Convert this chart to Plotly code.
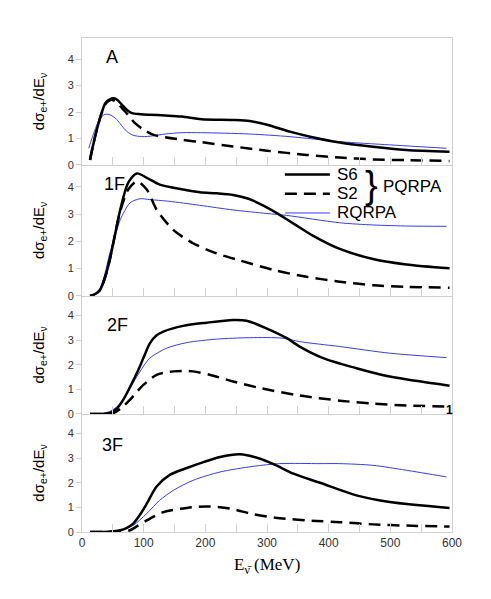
import plotly.graph_objects as go

# panel A
a_s6_x = [13, 18, 24, 31, 38, 45, 51, 58, 65, 73, 81, 95, 108, 135, 162, 194, 245, 272, 300, 337, 370, 418, 472, 526, 596]
a_s6_y = [0.19, 0.75, 1.33, 1.9, 2.34, 2.48, 2.52, 2.45, 2.27, 2.08, 1.96, 1.92, 1.9, 1.87, 1.83, 1.73, 1.70, 1.66, 1.52, 1.26, 1.07, 0.85, 0.69, 0.57, 0.50]
a_s2_x = [13, 18, 24, 31, 38, 44, 49, 56, 63, 70, 78, 86, 100, 116, 135, 162, 194, 245, 300, 364, 418, 472, 530, 596]
a_s2_y = [0.19, 0.75, 1.33, 1.9, 2.3, 2.43, 2.46, 2.38, 2.2, 2.02, 1.8, 1.58, 1.33, 1.14, 1.05, 0.95, 0.86, 0.7, 0.54, 0.38, 0.28, 0.21, 0.18, 0.15]
a_rq_x = [11, 16, 22, 28, 35, 40, 47, 54, 62, 70, 81, 97, 115, 135, 162, 194, 272, 337, 418, 499, 591]
a_rq_y = [0.63, 1.0, 1.39, 1.7, 1.89, 1.92, 1.88, 1.77, 1.56, 1.33, 1.14, 1.07, 1.1, 1.17, 1.22, 1.22, 1.17, 1.07, 0.88, 0.76, 0.63]

# panel 1F
f1_s6_x = [13, 20, 29, 37, 45, 54, 62, 75, 89, 105, 126, 164, 191, 218, 245, 270, 295, 320, 345, 375, 418, 472, 526, 596]
f1_s6_y = [0.0, 0.05, 0.21, 0.65, 1.32, 2.3, 3.16, 4.15, 4.49, 4.33, 4.08, 3.9, 3.8, 3.76, 3.7, 3.56, 3.3, 2.98, 2.62, 2.2, 1.72, 1.35, 1.15, 1.01]
f1_s2_x = [13, 20, 29, 37, 45, 54, 62, 75, 89, 105, 121, 148, 180, 218, 256, 310, 364, 418, 472, 526, 596]
f1_s2_y = [0.0, 0.05, 0.21, 0.65, 1.32, 2.3, 3.1, 3.9, 4.2, 3.9, 3.16, 2.42, 1.93, 1.56, 1.3, 0.95, 0.70, 0.52, 0.39, 0.33, 0.30]
f1_rq_x = [13, 20, 29, 37, 45, 54, 62, 78, 94, 110, 140, 191, 245, 300, 332, 418, 472, 530, 591]
f1_rq_y = [0.0, 0.06, 0.27, 0.8, 1.56, 2.2, 2.79, 3.41, 3.56, 3.53, 3.47, 3.32, 3.15, 3.02, 2.95, 2.68, 2.6, 2.56, 2.55]

# panel 2F
f2_s6_x = [13, 30, 45, 56, 67, 78, 89, 100, 110, 121, 132, 164, 202, 245, 267, 299, 332, 353, 391, 445, 499, 596]
f2_s6_y = [0.0, 0.0, 0.04, 0.2, 0.58, 1.1, 1.66, 2.3, 2.87, 3.2, 3.35, 3.58, 3.71, 3.82, 3.79, 3.48, 3.08, 2.74, 2.27, 1.86, 1.52, 1.15]
f2_s2_x = [13, 30, 51, 64, 78, 89, 100, 121, 148, 180, 207, 245, 289, 353, 418, 472, 526, 591]
f2_s2_y = [0.0, 0.0, 0.04, 0.25, 0.58, 0.9, 1.19, 1.59, 1.73, 1.73, 1.59, 1.32, 1.05, 0.75, 0.54, 0.42, 0.34, 0.30]
f2_rq_x = [13, 30, 45, 56, 67, 78, 89, 100, 110, 137, 170, 218, 272, 326, 353, 418, 499, 591]
f2_rq_y = [0.0, 0.0, 0.1, 0.28, 0.58, 1.05, 1.52, 1.95, 2.27, 2.67, 2.9, 3.04, 3.1, 3.08, 2.94, 2.74, 2.47, 2.29]

# panel 3F
f3_s6_x = [13, 35, 51, 62, 72, 83, 94, 105, 121, 143, 170, 197, 224, 256, 289, 315, 343, 386, 445, 499, 596]
f3_s6_y = [0.0, 0.0, 0.03, 0.07, 0.16, 0.34, 0.7, 1.15, 1.85, 2.33, 2.6, 2.84, 3.05, 3.16, 2.98, 2.71, 2.37, 2.0, 1.49, 1.22, 0.98]
f3_s2_x = [13, 35, 60, 78, 90, 105, 132, 170, 202, 240, 278, 321, 380, 418, 472, 526, 596]
f3_s2_y = [0.0, 0.0, 0.02, 0.07, 0.25, 0.47, 0.81, 0.98, 1.04, 0.95, 0.72, 0.56, 0.45, 0.4, 0.31, 0.26, 0.22]
f3_rq_x = [13, 35, 51, 62, 72, 83, 105, 126, 148, 180, 224, 278, 321, 386, 418, 472, 526, 591]
f3_rq_y = [0.0, 0.0, 0.03, 0.07, 0.15, 0.27, 0.75, 1.29, 1.69, 2.1, 2.44, 2.67, 2.78, 2.78, 2.78, 2.71, 2.51, 2.24]

panel_names = ["A", "1F", "2F", "3F"]
x_ticks = [0, 100, 200, 300, 400, 500, 600]
y_ticks = [0, 1, 2, 3, 4]

panels = [
    (a_s6_x, a_s6_y, a_s2_x, a_s2_y, a_rq_x, a_rq_y),
    (f1_s6_x, f1_s6_y, f1_s2_x, f1_s2_y, f1_rq_x, f1_rq_y),
    (f2_s6_x, f2_s6_y, f2_s2_x, f2_s2_y, f2_rq_x, f2_rq_y),
    (f3_s6_x, f3_s6_y, f3_s2_x, f3_s2_y, f3_rq_x, f3_rq_y),
]
domains = [[0.743, 1.0], [0.478, 0.743], [0.239, 0.478], [0.0, 0.239]]
label_pos = [(49, 4.1), (53, 4.12), (57, 3.6), (50, 3.52)]

grey = "#d0d0d0"
blue = "#3a3aff"
dash = "12px,7px"
fig = go.Figure()

for i, (s6x, s6y, s2x, s2y, rqx, rqy) in enumerate(panels):
    n = i + 1
    xa = "x" if n == 1 else "x%d" % n
    ya = "y" if n == 1 else "y%d" % n
    fig.add_trace(go.Scatter(x=rqx, y=rqy, xaxis=xa, yaxis=ya, mode="lines",
                             line=dict(color=blue, width=1, shape="spline", smoothing=0.8)))
    fig.add_trace(go.Scatter(x=s2x, y=s2y, xaxis=xa, yaxis=ya, mode="lines",
                             line=dict(color="black", width=2.5, dash=dash, shape="spline", smoothing=0.8)))
    fig.add_trace(go.Scatter(x=s6x, y=s6y, xaxis=xa, yaxis=ya, mode="lines",
                             line=dict(color="black", width=2.5, shape="spline", smoothing=0.8)))

    xkey = "xaxis" if n == 1 else "xaxis%d" % n
    ykey = "yaxis" if n == 1 else "yaxis%d" % n
    fig.layout[xkey] = dict(range=[0, 600], anchor=ya, domain=[0, 1], showline=True, linecolor=grey,
                            mirror=(n == 1), ticks="inside", tick0=0, dtick=50, ticklen=8, tickcolor=grey,
                            showgrid=False, zeroline=False, showticklabels=False, automargin=False)
    fig.layout[ykey] = dict(range=[0, 4.8], anchor=xa, domain=domains[i], showline=True, linecolor=grey,
                            mirror=True, ticks="outside", tickvals=y_ticks, ticklen=5, tickcolor=grey,
                            showgrid=False, zeroline=False, tickfont=dict(size=11, color="#333"),
                            automargin=False,
                            title=dict(text="dσ<sub>e+</sub>/dE<sub>ν</sub>", standoff=19,
                                       font=dict(size=15, color="black")))
    fig.add_annotation(x=label_pos[i][0], y=label_pos[i][1], xref=xa, yref=ya, text=panel_names[i],
                       showarrow=False, font=dict(size=18, color="black"))

fig.layout.xaxis4.showticklabels = True
fig.layout.xaxis4.tickmode = "array"
fig.layout.xaxis4.tickvals = x_ticks
fig.layout.xaxis4.tickfont = dict(size=12, color="#333")
fig.layout.xaxis4.minor = dict(dtick=50, tick0=0, ticks="inside", ticklen=8, tickcolor=grey)

fig.add_annotation(x=0.5, y=-0.043, xref="paper", yref="paper", text="E<sub>ν̄</sub> (MeV)",
                   showarrow=False, yanchor="top",
                   font=dict(family="Liberation Serif", size=17, color="black"))

# legend drawn in panel 1F
fig.add_shape(type="line", xref="x2", yref="y2", x0=329, x1=402, y0=4.45, y1=4.45,
              line=dict(color="black", width=2.5))
fig.add_shape(type="line", xref="x2", yref="y2", x0=329, x1=402, y0=3.74, y1=3.74,
              line=dict(color="black", width=2.5, dash=dash))
fig.add_shape(type="line", xref="x2", yref="y2", x0=329, x1=402, y0=3.04, y1=3.04,
              line=dict(color=blue, width=1))
for txt, yy in [("S6", 4.45), ("S2", 3.74), ("RQRPA", 3.04)]:
    fig.add_annotation(x=410, y=yy, xref="x2", yref="y2", text=txt, xanchor="left", showarrow=False,
                       font=dict(size=17, color="black"))
fig.add_annotation(x=470, y=4.05, xref="x2", yref="y2", text="}", showarrow=False,
                   font=dict(size=38, color="black", family="Liberation Sans"))
fig.add_annotation(x=485, y=4.02, xref="x2", yref="y2", text="PQRPA", xanchor="left", showarrow=False,
                   font=dict(size=17, color="black"))
fig.add_annotation(x=596, y=0.15, xref="x3", yref="y3", text="<b>1</b>", showarrow=False,
                   font=dict(size=12, color="black"))

# margins allow for the 8px page margin of the browser
fig.update_layout(width=491, height=599, margin=dict(l=74, r=47, t=30, b=75),
                  plot_bgcolor="white", paper_bgcolor="white",
                  font=dict(family="Liberation Sans"), showlegend=False)

fig.write_html("out.html")
